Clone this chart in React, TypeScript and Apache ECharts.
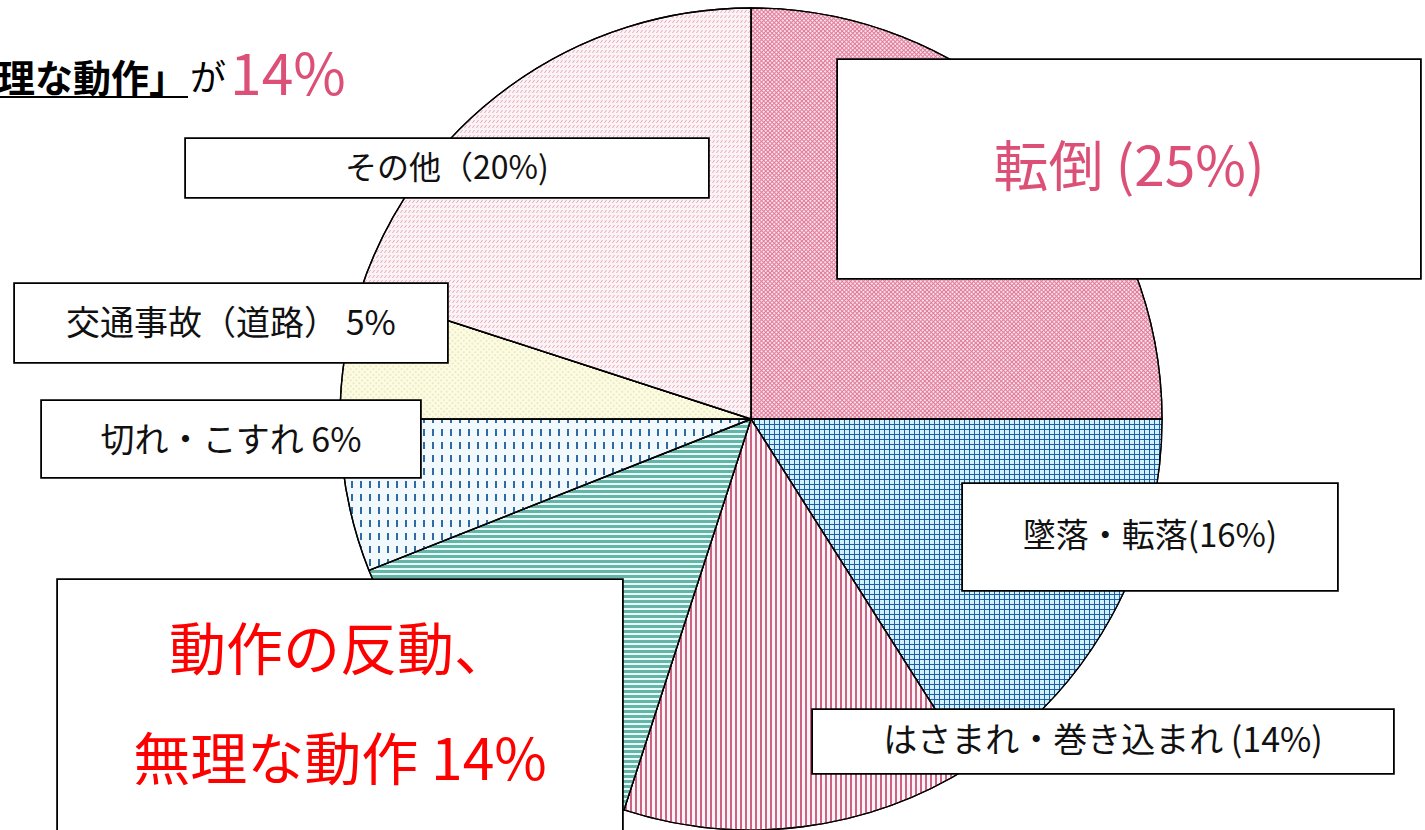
import React, { useEffect, useRef } from 'react';
import * as echarts from 'echarts';

const categories = ['転倒', '墜落・転落', 'はさまれ・巻き込まれ', '動作の反動、無理な動作', '切れ・こすれ', '交通事故（道路）', 'その他'];
const values = [25, 16, 14, 14, 6, 5, 20];
const labelTexts = ['転倒 (25%)', '墜落・転落(16%)', 'はさまれ・巻き込まれ (14%)', '動作の反動、\n無理な動作 14%', '切れ・こすれ 6%', '交通事故（道路） 5%', 'その他（20%)'];
const titleLead = '「動作の反動、無理な動作」';
const titleMid = 'が';
const titleValue = '14%';

const FONT = '"Noto Sans CJK JP", "Noto Sans", sans-serif';
const PINK = '#dc5078';

// fill colours and decal patterns per slice
const fills = ['#e07b9a', '#1d5ea8', '#fdf4f7', '#e8faf8', '#f2f9fc', '#fcfce3', '#fcf3f6'];
const decals: any[] = [
  { symbol: 'rect', symbolSize: 1, color: '#fbe2ea', dashArrayX: [2, 1], dashArrayY: [2, 1], rotation: Math.PI / 4 },
  { symbol: 'rect', symbolSize: 1, color: '#d2f0fa', dashArrayX: [4, 1], dashArrayY: [4, 1], rotation: 0 },
  { symbol: 'rect', symbolSize: 1, color: '#cc6284', dashArrayX: [2, 3], dashArrayY: [4, 0], rotation: 0 },
  { symbol: 'rect', symbolSize: 1, color: '#64b4a7', dashArrayX: [4, 0], dashArrayY: [3, 2], rotation: 0 },
  { symbol: 'rect', symbolSize: 1, color: '#2f6aa5', dashArrayX: [2, 7], dashArrayY: [7, 6], rotation: 0 },
  { symbol: 'rect', symbolSize: 1, color: '#efeac6', dashArrayX: [2, 2], dashArrayY: [2, 2], rotation: Math.PI / 4 },
  { symbol: 'path://M0 10 L3 10 L10 0 L7 0 Z', symbolSize: 1, symbolKeepAspect: false, color: '#e2a1b5', dashArrayX: [3, 1], dashArrayY: [3, 2], rotation: 0 },
];

// label box layout: [centerX, top, width, height, fontSize, color, lineHeight, padTop]
const boxes: [number, number, number, number, number, string, number, number][] = [
  [1129, 60, 582, 218, 55, PINK, 204, 0],
  [1150, 484, 374, 106, 33, '#111', 98, 0],
  [1103, 710, 580, 63, 34, '#111', 55, 0],
  [340, 580, 564, 300, 57, '#ff0000', 110, 10],
  [231, 401, 378, 76, 34, '#111', 72, 0],
  [231, 284, 432, 78, 34, '#111', 72, 0],
  [447, 139, 522, 58, 32, '#111', 52, 0],
];

export default function App() {
  const ref = useRef<HTMLDivElement>(null);
  useEffect(() => {
    if (!ref.current) return;
    const chart = echarts.init(ref.current, null, { renderer: 'svg' });
    const data = values.map((v, i) => {
      const b = boxes[i];
      return {
        value: v,
        name: categories[i],
        itemStyle: { color: fills[i], decal: decals[i] },
        label: {
          formatter: labelTexts[i],
          width: b[2],
          height: b[3] - b[7],
          lineHeight: b[6],
          padding: [b[7], 0, 0, 0],
          fontSize: b[4],
          color: b[5],
          fontFamily: FONT,
          backgroundColor: '#fff',
          borderColor: '#000',
          borderWidth: 1.8,
          align: 'center',
          verticalAlign: 'top',
          overflow: 'none',
        },
      };
    });
    chart.setOption({
      animation: false,
      backgroundColor: '#fff',
      series: [
        {
          type: 'pie',
          center: [751, 419],
          radius: 411,
          startAngle: 90,
          clockwise: true,
          silent: true,
          avoidLabelOverlap: false,
          emphasis: { disabled: true },
          itemStyle: { borderColor: '#000', borderWidth: 1.4 },
          label: { show: true, position: 'outside', fontFamily: FONT, overflow: 'none' },
          labelLine: { show: false },
          labelLayout: (p: any) => {
            const b = boxes[p.dataIndex];
            return { x: b[0], y: b[1], align: 'center', verticalAlign: 'top' };
          },
          data,
        },
      ],
      graphic: [
        {
          type: 'text',
          style: { text: titleLead, x: 187, y: 75, align: 'right', verticalAlign: 'middle', font: `bold 38px ${FONT}`, fill: '#000' },
        },
        {
          type: 'line',
          shape: { x1: 0, y1: 97, x2: 188, y2: 97 },
          style: { stroke: '#000', lineWidth: 2 },
        },
        {
          type: 'text',
          style: { text: titleMid, x: 190, y: 75, align: 'left', verticalAlign: 'middle', font: `36px ${FONT}`, fill: '#000' },
        },
        {
          type: 'text',
          style: { text: titleValue, x: 230, y: 70, align: 'left', verticalAlign: 'middle', font: `57px ${FONT}`, fill: PINK },
        },
      ],
    });
    return () => chart.dispose();
  }, []);
  return <div ref={ref} style={{ position: 'absolute', left: 0, top: 0, width: 1425, height: 830 }} />;
}
